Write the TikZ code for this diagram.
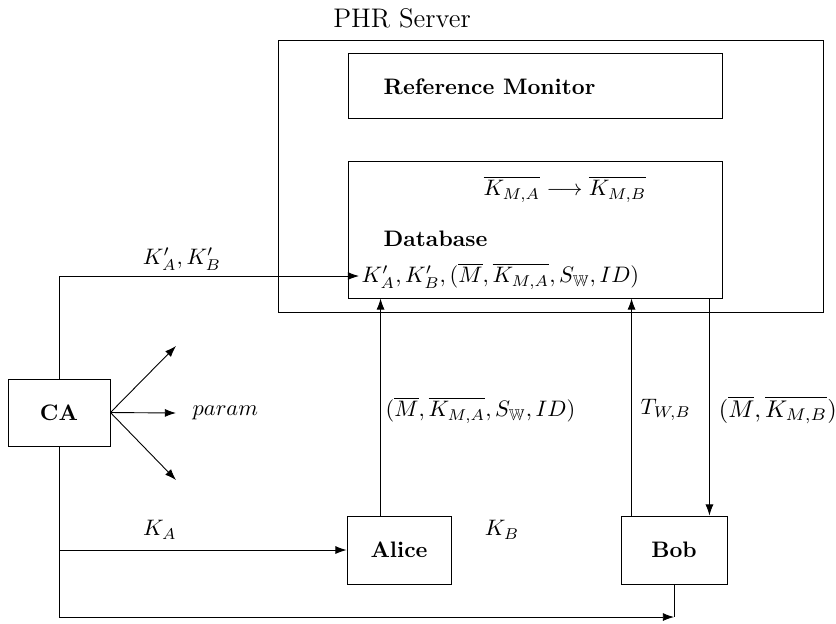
\documentclass[tikz,border=0pt]{standalone}
\usepackage{amssymb}
\usetikzlibrary{arrows.meta}
\begin{document}
\begin{tikzpicture}[x=0.4464pt,y=-0.4464pt,
  box/.style={draw,inner sep=0pt},
  lbl/.style={inner sep=1pt},
  arr/.style={-{Latex[length=5pt,width=3.6pt]}}]
\useasboundingbox (0,0) rectangle (836,623);
% boxes
\node[box,minimum width={545*0.4464pt},minimum height={272*0.4464pt}] (server) at (550.5,176) {};
\node[lbl] (phr) at (402,18) {\large PHR Server};
\node[box,minimum width={374*0.4464pt},minimum height={65*0.4464pt}] (rm) at (535,85.5) {};
\node[lbl,anchor=west] (rmtext) at (381,87) {\textbf{Reference Monitor}};
\node[box,minimum width={374*0.4464pt},minimum height={137*0.4464pt}] (db) at (535,229.5) {};
\node[lbl] (map) at (565,189) {$\overline{K_{M,A}}\longrightarrow\overline{K_{M,B}}$};
\node[lbl,anchor=west] (dbname) at (381,239) {\textbf{Database}};
\node[lbl,anchor=west] (dbc) at (359,276) {$K'_A,K'_B,(\overline{M},\overline{K_{M,A}},S_{\mathbb{W}},ID)$};
\node[box,minimum width={102*0.4464pt},minimum height={67*0.4464pt}] (ca) at (59,412.5) {\textbf{CA}};
\node[box,minimum width={104*0.4464pt},minimum height={68*0.4464pt}] (alice) at (399,550) {\textbf{Alice}};
\node[box,minimum width={106*0.4464pt},minimum height={68*0.4464pt}] (bob) at (674,550) {\textbf{Bob}};
% CA to database
\draw[arr] (ca.north) |- (dbc.west);
\node[lbl] (lkab) at (182,259) {$K'_A,K'_B$};
% param fan
\coordinate (p1) at (176,346);
\coordinate (p2) at (176,413);
\coordinate (p3) at (176,480);
\draw[arr] (ca.east) -- (p1);
\draw[arr] (ca.east) -- (p2);
\draw[arr] (ca.east) -- (p3);
\node[lbl,anchor=west] (param) at (190,413) {$param$};
% CA to Alice and Bob
\draw[arr] (ca.south |- alice.west) -- (alice.west);
\node[lbl] (lka) at (160,530) {$K_A$};
\node[lbl] (lkb) at (502,530) {$K_B$};
\coordinate (bc) at (674,617);
\draw[arr] (ca.south) |- (bc);
\draw (bob.south) -- (bc);
% Alice / Bob to database
\draw[arr] ([xshift={34*0.4464pt}]alice.north west) -- ([xshift={34*0.4464pt}]alice.north west |- db.south);
\node[lbl,anchor=west] (la) at (383,410) {$(\overline{M},\overline{K_{M,A}},S_{\mathbb{W}},ID)$};
\draw[arr] ([xshift={11*0.4464pt}]bob.north west) -- ([xshift={11*0.4464pt}]bob.north west |- db.south);
\node[lbl,anchor=west] (lt) at (638,410) {$T_{W,B}$};
\draw[arr] ([xshift={-18*0.4464pt}]bob.north east |- db.south) -- ([xshift={-18*0.4464pt}]bob.north east);
\node[lbl,anchor=west,scale=1.08] (lb) at (716,410) {$(\overline{M},\overline{K_{M,B}})$};
\end{tikzpicture}
\end{document}
